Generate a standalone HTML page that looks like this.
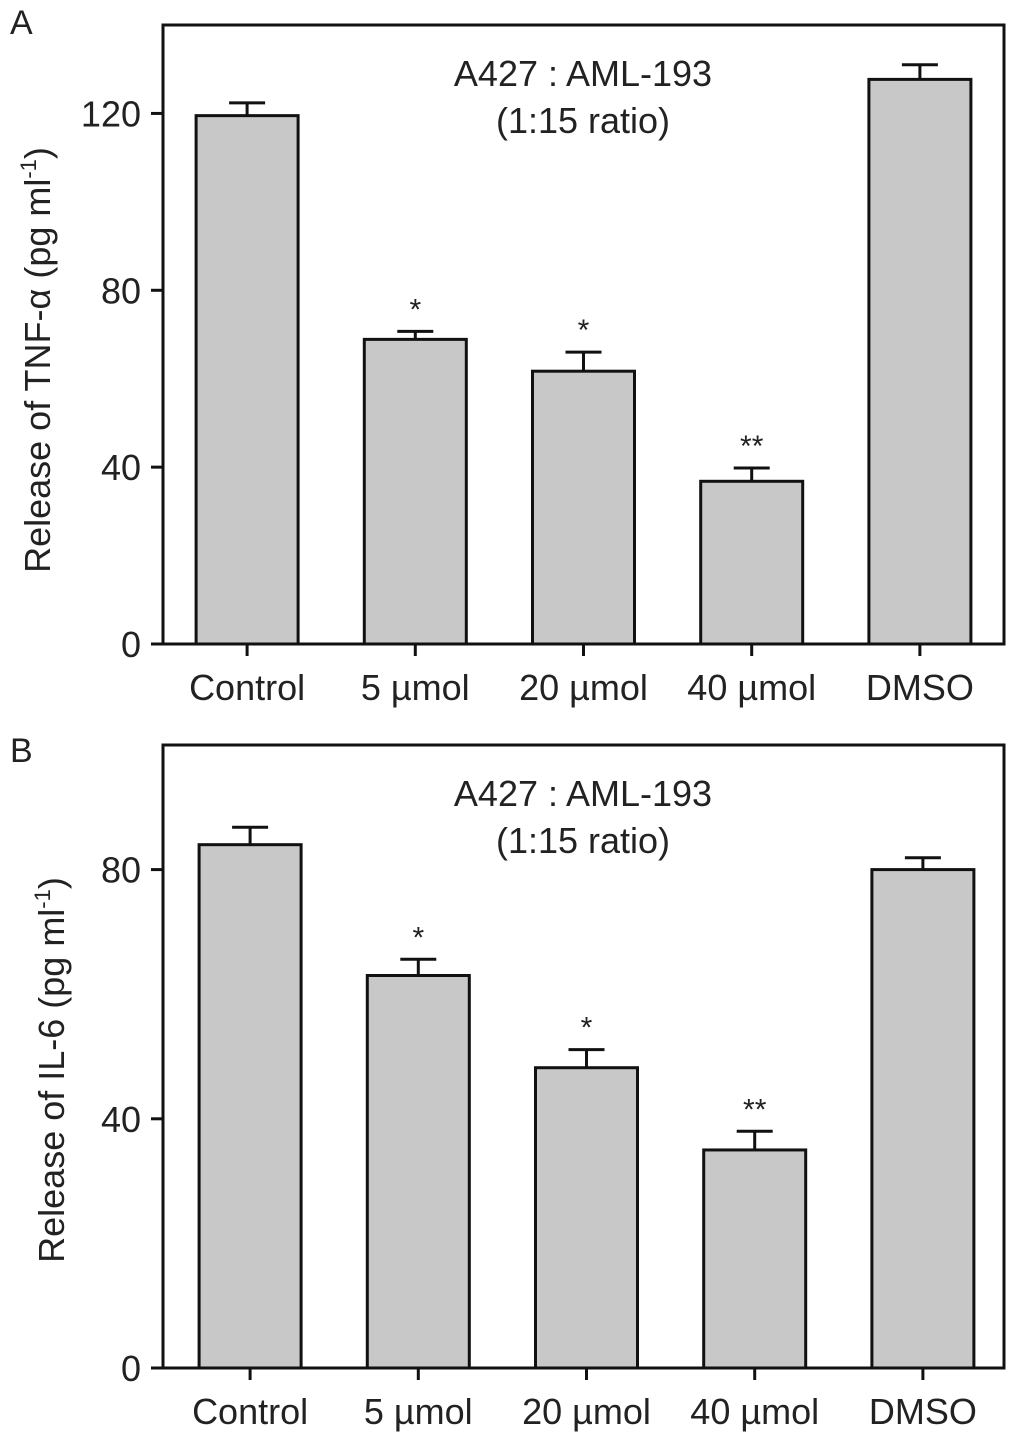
<!DOCTYPE html>
<html><head><meta charset="utf-8"><style>
html,body{margin:0;padding:0;background:#fff;}
svg{display:block;font-family:"Liberation Sans",Arial,sans-serif;}
</style></head><body>
<svg id="chart" width="1025" height="1442" viewBox="0 0 1025 1442" xmlns="http://www.w3.org/2000/svg"></svg>
<script>
const categories = ["Control","5 \u00b5mol","20 \u00b5mol","40 \u00b5mol","DMSO"];
const tnfValues = [119.5, 68.9, 61.7, 36.8, 127.7];
const tnfErrors = [2.9, 1.8, 4.3, 3.0, 3.3];
const tnfSig = ["", "*", "*", "**", ""];
const tnfTicks = [0, 40, 80, 120];
const il6Values = [84.0, 63.0, 48.2, 35.0, 80.0];
const il6Errors = [2.8, 2.6, 2.9, 3.0, 1.9];
const il6Sig = ["", "*", "*", "**", ""];
const il6Ticks = [0, 40, 80];

const NS = "http://www.w3.org/2000/svg";
const svg = document.getElementById("chart");
function mk(tag, attrs, parent, text){
  const e = document.createElementNS(NS, tag);
  for (const k in attrs) e.setAttribute(k, attrs[k]);
  if (text !== undefined) e.textContent = text;
  (parent || svg).appendChild(e);
  return e;
}
function panel(cfg){
  const g = mk("g", {});
  
  
  const L = 163, R = 1004, T = cfg.top, B = cfg.bottom;
  const y = v => B - (v / cfg.max) * (B - T);
  const slotW = (R - L) / categories.length;
  const xc = i => L + slotW * (i + 0.5) + cfg.shift;
  const bw = 102;
  cfg.values.forEach((v, i) => {
    const cx = xc(i);
    const eb = mk("line", {x1: cx, x2: cx, y1: y(v), y2: y(v + cfg.errors[i]), stroke: "#111", "stroke-width": 3}, g);
    
    
    const cap = mk("line", {x1: cx - 18, x2: cx + 18, y1: y(v + cfg.errors[i]), y2: y(v + cfg.errors[i]), stroke: "#111", "stroke-width": 3}, g);
    
    
    const r = mk("rect", {x: cx - bw/2, y: y(v), width: bw, height: B - y(v), fill: "#c8c8c8", stroke: "#111", "stroke-width": 3}, g);
    
    
    if (cfg.sig[i]) {
      const s = mk("text", {x: cx, y: y(v + cfg.errors[i]) - 12, "text-anchor": "middle", "font-size": 30, fill: "#222"}, g, cfg.sig[i]);
      
      
    }
    const tk = mk("line", {x1: cx, x2: cx, y1: B, y2: B + 12, stroke: "#111", "stroke-width": 3}, g);
    
    
    const lb = mk("text", {x: cx, y: B + 56, "text-anchor": "middle", "font-size": 36, fill: "#222"}, g, categories[i]);
    
    
  });
  const fr = mk("rect", {x: L, y: T, width: R - L, height: B - T, fill: "none", stroke: "#111", "stroke-width": 3}, g);
  
  
  cfg.ticks.forEach(t => {
    const tl = mk("line", {x1: L - 12, x2: L, y1: y(t), y2: y(t), stroke: "#111", "stroke-width": 3}, g);
    
    
    const tt = mk("text", {x: L - 22, y: y(t) + 13, "text-anchor": "end", "font-size": 36, fill: "#222"}, g, String(t));
    
    
  });
  const ttl = mk("text", {x: 583, y: T + 61, "text-anchor": "middle", "font-size": 36, fill: "#222"}, g, "A427 : AML-193");
  
  
  const ttl2 = mk("text", {x: 583, y: T + 108, "text-anchor": "middle", "font-size": 36, fill: "#222"}, g, "(1:15 ratio)");
  
  
  const yt = mk("text", {transform: `translate(${cfg.titleX},${cfg.titleY}) rotate(-90)`, "text-anchor": "middle", "font-size": 36, fill: "#222"}, g);
  
  
  mk("tspan", {}, yt, cfg.ytitle);
  mk("tspan", {"font-size": 22, dy: -14}, yt, "-1");
  mk("tspan", {dy: 14}, yt, ")");
  const pl = mk("text", {x: 10, y: cfg.letterY, "font-size": 34, fill: "#222"}, g, cfg.letter);
  
  
}
panel({name:"panel-a-tnf", top:25, bottom:644, max:140, values:tnfValues, errors:tnfErrors, sig:tnfSig, ticks:tnfTicks, ytitle:"Release of TNF-\u03b1 (pg ml", titleX:50, titleY:360, letter:"A", letterY:34, shift:0});
panel({name:"panel-b-il6", top:745, bottom:1368, max:100, values:il6Values, errors:il6Errors, sig:il6Sig, ticks:il6Ticks, ytitle:"Release of IL-6 (pg ml", titleX:64, titleY:1070, letter:"B", letterY:762, shift:3});
</script>
</body></html>
